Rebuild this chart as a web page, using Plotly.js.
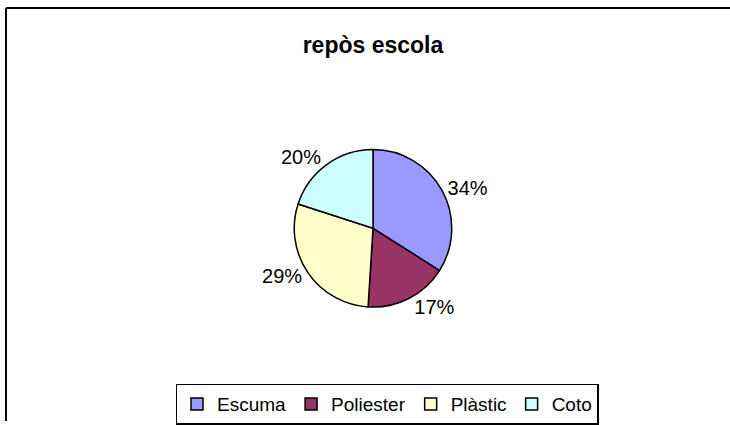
<!DOCTYPE html>
<html>
<head>
<meta charset="utf-8">
<script src="https://cdn.plot.ly/plotly-3.0.1.min.js"></script>
<style>html,body{margin:0;padding:0;background:#fff;}#chart{width:730px;height:425px;}</style>
</head>
<body>
<div id="chart"></div>
<script>
const labels = ["Escuma", "Poliester", "Plàstic", "Coto"];
const values = [34, 17, 29, 20];
const colors = ["#9999FF", "#993366", "#FFFFCC", "#CCFFFF"];
const chartTitle = "repòs escola";

const W = 730, H = 425;
const FONT = "Liberation Sans, Arial, sans-serif";
const trace = {
  type: "pie",
  labels: labels,
  values: values,
  sort: false,
  direction: "clockwise",
  rotation: 0,
  marker: {colors: colors, line: {color: "#000", width: 1.5}},
  textinfo: "percent",
  texttemplate: "%{percent:.0%}",
  textposition: "outside",
  outsidetextfont: {family: FONT, size: 20, color: "#000"},
  domain: {x: [293 / W, 453 / W], y: [1 - 310 / H, 1 - 151 / H]},
  hoverinfo: "none"
};
const layout = {
  width: W, height: H,
  margin: {l: 0, r: 0, t: 0, b: 0},
  paper_bgcolor: "#fff",
  font: {family: FONT, color: "#000"},
  title: {
    text: "<b>" + chartTitle + "</b>",
    font: {family: FONT, size: 23, color: "#000"},
    x: 373 / W, xanchor: "center", xref: "paper",
    y: 1 - 45 / H, yanchor: "middle", yref: "paper"
  },
  showlegend: true,
  legend: {
    orientation: "h",
    x: 387 / W, xanchor: "center",
    y: 1 - 408 / H, yanchor: "middle",
    bordercolor: "#000", borderwidth: 1.5,
    font: {family: FONT, size: 19, color: "#000"},
    itemwidth: 30,
    tracegroupgap: 0,
    traceorder: "normal"
  },
  shapes: [
    {type: "line", xref: "paper", yref: "paper", x0: 6 / W, x1: 1, y0: 1 - 8 / H, y1: 1 - 8 / H, line: {color: "#000", width: 2}},
    {type: "line", xref: "paper", yref: "paper", x0: 6 / W, x1: 6 / W, y0: 1 - 8 / H, y1: 0, line: {color: "#000", width: 2}}
  ]
};
Plotly.newPlot("chart", [trace], layout, {displayModeBar: false, staticPlot: true});
</script>
</body>
</html>
